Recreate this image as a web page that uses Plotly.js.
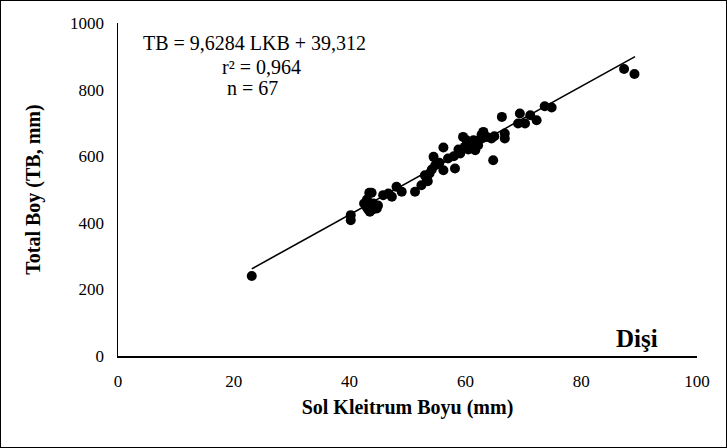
<!DOCTYPE html>
<html>
<head>
<meta charset="utf-8">
<script src="https://cdn.plot.ly/plotly-3.0.1.min.js"></script>
<style>
html,body{margin:0;padding:0;background:#fff;}
#wrap{width:727px;height:448px;box-sizing:border-box;border:1.5px solid #000;position:relative;overflow:hidden;}
#chart{position:absolute;left:-1.5px;top:-1.5px;width:727px;height:448px;}
</style>
</head>
<body>
<div id="wrap"><div id="chart"></div></div>
<script>
// Sol Kleitrum Boyu (mm)
const lkb = [23.1,40.2,40.2,43.4,42.5,42.9,44.1,44.7,43.5,45.8,46.7,47.3,48.1,49.0,51.3,52.4,53.3,53.0,54.5,56.2,57.0,56.2,58.2,59.6,59.1,59.9,60.8,61.4,61.7,62.2,63.1,63.7,64.5,64.8,66.8,66.3,66.8,69.4,69.1,70.3,71.2,72.3,73.7,74.9,87.4,89.2,
  43.0,43.8,44.0,43.2,44.5,44.9,53.8,54.2,54.8,55.5,53.5,58.0,58.8,60.2,60.5,61.0,62.5,63.0,61.8,62.8,65.0];
// Total Boy (TB, mm)
const tb = [240,423,408,490,458,448,458,443,433,483,488,478,508,493,493,513,533,543,598,626,593,558,563,658,608,628,638,648,618,633,673,658,653,588,668,718,653,728,698,698,723,708,750,746,862,847,
  470,490,440,440,450,452,548,560,573,580,525,600,620,648,620,630,650,655,640,665,660];
// regression
const slope = 9.6284, intercept = 39.312;
const lineX = [23.1, 89.3];
const lineY = lineX.map(v => slope*v + intercept);
const xTicks = [0,20,40,60,80,100];
const yTicks = [0,200,400,600,800,1000];

const serif = "Liberation Serif, Times New Roman, serif";
const traces = [
  {x: lineX, y: lineY, mode: 'lines', line: {color: '#000', width: 1.6}, hoverinfo: 'skip', showlegend: false},
  {x: lkb, y: tb, mode: 'markers', marker: {color: '#000', size: 10}, showlegend: false}
];
const layout = {
  width: 727, height: 448,
  margin: {l: 118, r: 30, t: 23, b: 92},
  paper_bgcolor: 'rgba(0,0,0,0)', plot_bgcolor: '#fff',
  font: {family: serif, color: '#000', size: 17},
  xaxis: {range: [0,100], tickvals: xTicks, ticktext: xTicks.map(String), showgrid: false, zeroline: false,
    showline: true, linecolor: '#000', linewidth: 1.5, ticks: '', ticklabelstandoff: 9,
    tickfont: {family: serif, size: 17, color: '#000'},
    title: {text: '<b>Sol Kleitrum Boyu (mm)</b>', font: {family: serif, size: 20, color: '#000'}, standoff: 10}},
  yaxis: {range: [0,1000], tickvals: yTicks, ticktext: yTicks.map(String), showgrid: false, zeroline: false,
    showline: true, linecolor: '#000', linewidth: 1.5, ticks: '', ticklabelstandoff: 9,
    tickfont: {family: serif, size: 17, color: '#000'},
    title: {text: '<b>Total Boy (TB, mm)</b>', font: {family: serif, size: 20, color: '#000'}, standoff: 24}},
  annotations: [
    {xref: 'paper', yref: 'paper', x: 0.235, y: 0.94, text: 'TB = 9,6284 LKB + 39,312', showarrow: false, font: {family: serif, size: 20}, xanchor: 'center', yanchor: 'middle'},
    {xref: 'paper', yref: 'paper', x: 0.247, y: 0.868, text: 'r² = 0,964', showarrow: false, font: {family: serif, size: 20}, xanchor: 'center', yanchor: 'middle'},
    {xref: 'paper', yref: 'paper', x: 0.233, y: 0.805, text: 'n = 67', showarrow: false, font: {family: serif, size: 20}, xanchor: 'center', yanchor: 'middle'},
    {xref: 'paper', yref: 'paper', x: 0.896, y: 0.054, text: '<b>Dişi</b>', showarrow: false, font: {family: serif, size: 25}, xanchor: 'center', yanchor: 'middle'}
  ]
};
Plotly.newPlot('chart', traces, layout, {displayModeBar: false, staticPlot: true});
</script>
</body>
</html>
